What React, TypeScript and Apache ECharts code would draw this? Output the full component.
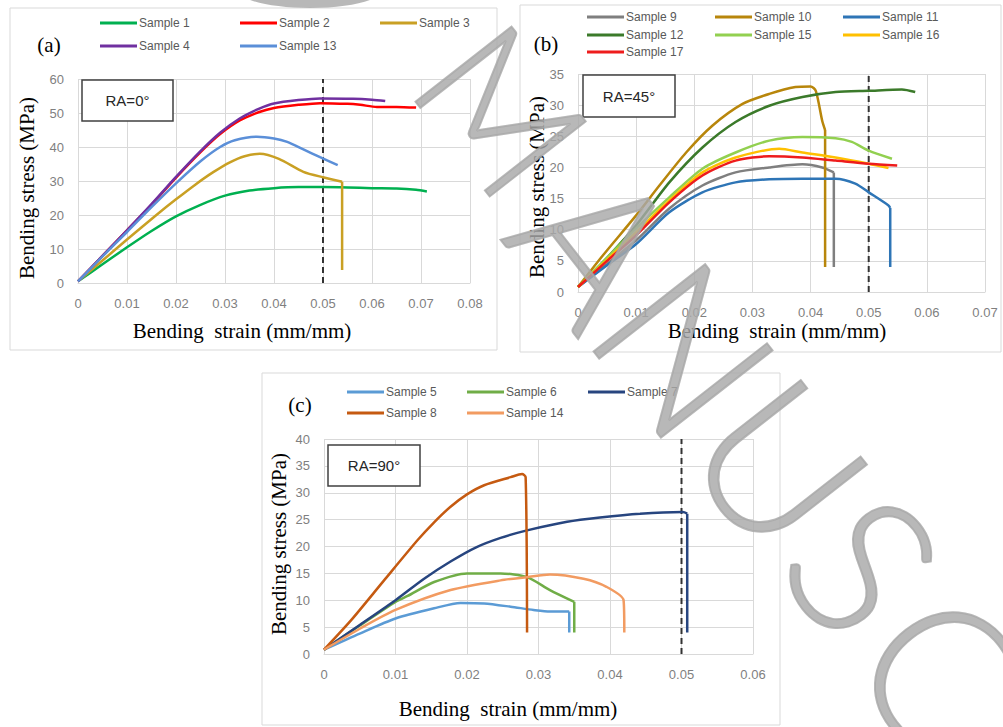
import React, { useEffect, useRef } from "react";
import * as echarts from "echarts";

// ---------- Panel (a) RA=0° ----------
const sample1 = [[0,0.5],[0.005,5.5],[0.01,10.5],[0.015,15.3],[0.02,19.6],[0.025,23],[0.03,25.7],[0.035,27.2],[0.04,27.9],[0.045,28.2],[0.05,28.2],[0.055,28.1],[0.06,27.9],[0.065,27.8],[0.069,27.4],[0.0712,26.9]];
const sample2 = [[0,0.5],[0.005,8],[0.01,15.5],[0.015,23],[0.02,31],[0.025,38.5],[0.029,43.8],[0.033,47.8],[0.037,50.3],[0.04,51.5],[0.045,52.4],[0.0494,52.9],[0.055,52.7],[0.0576,52.4],[0.061,51.8],[0.065,51.8],[0.069,51.6]];
const sample3 = [[0,0.5],[0.005,6.6],[0.01,12.8],[0.016,20],[0.02,24.6],[0.024,29],[0.0276,32.6],[0.031,35.5],[0.034,37.3],[0.0371,38],[0.041,36.5],[0.046,32.7],[0.05,31.1],[0.0539,29.8],[0.0539,3.8]];
const sample4 = [[0,0.5],[0.005,8],[0.01,15.5],[0.015,23.2],[0.02,31.2],[0.025,38.8],[0.029,44.2],[0.033,48.4],[0.037,51.3],[0.04,52.8],[0.045,53.8],[0.0494,54.3],[0.0561,54.2],[0.06,53.9],[0.0627,53.5]];
const sample13 = [[0,0.5],[0.005,7.8],[0.01,15],[0.015,22.3],[0.02,29.3],[0.025,35.8],[0.029,40],[0.032,42],[0.0365,43],[0.04,42.5],[0.0427,41.5],[0.046,39.3],[0.0494,37],[0.053,34.7]];

// ---------- Panel (b) RA=45° ----------
const sample9 = [[0,0.8],[0.005,4.5],[0.01,8.3],[0.0157,13.4],[0.0214,17.1],[0.0271,19.2],[0.0329,20],[0.0386,20.5],[0.042,20],[0.044,19.2],[0.044,4]];
const sample10 = [[0,0.8],[0.0043,5.9],[0.01,12.3],[0.014,17.1],[0.0186,22.4],[0.0231,26.7],[0.0283,30.2],[0.0329,31.8],[0.0374,32.9],[0.04,33],[0.0409,32.3],[0.042,27.5],[0.0425,26],[0.0425,4]];
const sample11 = [[0,0.8],[0.005,4.3],[0.01,7.7],[0.0157,12.8],[0.0214,16],[0.0271,17.6],[0.0329,18.1],[0.0386,18.2],[0.0443,18.2],[0.0477,17.4],[0.05,16],[0.0534,13.9],[0.0537,13.5],[0.0537,4]];
const sample12 = [[0,0.8],[0.0043,4.8],[0.01,10.7],[0.0157,17.6],[0.0214,23.2],[0.0271,27.3],[0.0329,29.9],[0.0386,31.3],[0.0443,32.1],[0.05,32.3],[0.0557,32.5],[0.058,32.1]];
const sample15 = [[0,0.8],[0.005,5.5],[0.01,10.2],[0.0157,15.2],[0.0214,19.8],[0.0271,22.4],[0.0329,24.3],[0.0386,24.9],[0.0443,24.7],[0.0471,24.1],[0.05,22.7],[0.054,21.4]];
const sample16 = [[0,0.8],[0.005,5.2],[0.01,9.6],[0.0157,14.7],[0.0214,19.2],[0.0271,21.6],[0.0346,23],[0.0386,22.4],[0.0443,21.6],[0.05,20.6],[0.0534,19.9]];
const sample17 = [[0,0.8],[0.005,5],[0.01,9.1],[0.0157,14.4],[0.0214,18.7],[0.0271,21.1],[0.0329,21.8],[0.0386,21.6],[0.0443,21.1],[0.05,20.6],[0.0549,20.3]];

// ---------- Panel (c) RA=90° ----------
const sample5 = [[0,0.8],[0.005,3.8],[0.01,6.6],[0.0154,8.5],[0.0191,9.5],[0.0224,9.4],[0.0261,8.8],[0.0293,8.2],[0.0316,7.9],[0.0343,7.9],[0.0343,4]];
const sample6 = [[0,0.8],[0.005,5.3],[0.01,9.7],[0.0117,10.8],[0.0154,13.4],[0.02,15],[0.0247,15],[0.0284,14.3],[0.0316,11.9],[0.035,9.7],[0.035,4]];
const sample7 = [[0,0.8],[0.005,5.4],[0.01,10],[0.014,14],[0.0177,17.2],[0.0212,19.8],[0.0247,21.6],[0.0284,23],[0.034,24.6],[0.0386,25.4],[0.0442,26.1],[0.0502,26.4],[0.0508,26.1],[0.0508,4]];
const sample8 = [[0,0.8],[0.0038,6.3],[0.0084,13.7],[0.0131,21.2],[0.0154,24.5],[0.0177,27.4],[0.02,29.7],[0.0224,31.4],[0.0261,32.9],[0.0277,33.5],[0.0282,32.9],[0.0284,4]];
const sample14 = [[0,0.8],[0.005,4.7],[0.01,8.2],[0.0177,11.9],[0.0247,13.7],[0.0284,14.3],[0.0316,14.8],[0.0363,14],[0.0395,12.5],[0.0419,10],[0.042,4]];

// axis ranges / reference lines
const limitStrain = 0.05;
const axesA = { xMax: 0.08, yMax: 60, yStep: 10 };
const axesB = { xMax: 0.07, yMax: 35, yStep: 5 };
const axesC = { xMax: 0.06, yMax: 40, yStep: 5 };
const panelLabels = ["(a)", "(b)", "(c)"];
const raLabels = ["RA=0°", "RA=45°", "RA=90°"];
const xTitle = "Bending  strain (mm/mm)";
const yTitle = "Bending stress (MPa)";
const watermark = ["M", "A", "N", "U", "S", "C"];

const panelA = [
  { name: "Sample 1", data: sample1 },
  { name: "Sample 2", data: sample2 },
  { name: "Sample 3", data: sample3 },
  { name: "Sample 4", data: sample4 },
  { name: "Sample 13", data: sample13 },
];
const panelB = [
  { name: "Sample 9", data: sample9 },
  { name: "Sample 10", data: sample10 },
  { name: "Sample 11", data: sample11 },
  { name: "Sample 12", data: sample12 },
  { name: "Sample 15", data: sample15 },
  { name: "Sample 16", data: sample16 },
  { name: "Sample 17", data: sample17 },
];
const panelC = [
  { name: "Sample 5", data: sample5 },
  { name: "Sample 6", data: sample6 },
  { name: "Sample 7", data: sample7 },
  { name: "Sample 8", data: sample8 },
  { name: "Sample 14", data: sample14 },
];

const colorsA = ["#00b050", "#ff0000", "#c9a024", "#7030a0", "#5b8fd8"];
const colorsB = ["#7f7f7f", "#b8860b", "#2e75b6", "#3b7a2a", "#92d050", "#ffc000", "#ee1c1c"];
const colorsC = ["#5b9bd5", "#70ad47", "#27457f", "#c55a11", "#f29b61"];

// legend item positions [left, centerY]
const legPosA = [[100, 24], [240, 24], [380, 24], [100, 47], [240, 47]];
const legPosB = [[587, 18], [715, 18], [843, 18], [587, 36], [715, 36], [843, 36], [587, 53]];
const legPosC = [[347, 393], [467, 393], [588, 393], [347, 414], [467, 414]];

const wmPos = [[505, 108], [600, 242], [688, 347], [783, 462], [866, 563], [945, 670]];
const wmSize = [172, 200, 200, 200, 200, 200];

const fmt = (v: number) => (v === 0 ? "0" : v.toFixed(2));

export default function App() {
  const ref = useRef<HTMLDivElement>(null);
  useEffect(() => {
    if (!ref.current) return;
    const chart = echarts.init(ref.current, undefined, { renderer: "svg" });

    const labelStyle = { color: "#7f7f7f", fontSize: 13, fontFamily: "Liberation Sans", margin: 14 };
    const split = { show: true, lineStyle: { color: "#d9d9d9", width: 1 } };

    const mkX = (gi: number, max: number) => ({
      type: "value", gridIndex: gi, min: 0, max, interval: 0.01,
      axisLine: { show: true, lineStyle: { color: "#d9d9d9" } }, axisTick: { show: false },
      axisLabel: { ...labelStyle, formatter: fmt }, splitLine: split,
    });
    const mkY = (gi: number, max: number, step: number) => ({
      type: "value", gridIndex: gi, min: 0, max, interval: step,
      axisLine: { show: false }, axisTick: { show: false },
      axisLabel: labelStyle, splitLine: split,
    });

    const series: any[] = [];
    const legends: any[] = [];
    const addPanel = (list: any[], colors: string[], pos: number[][], gi: number) => {
      list.forEach((s, i) => {
        const d = s.data;
        const n = d.length;
        const hasDrop = n > 2 && d[n - 1][0] === d[n - 2][0];
        const main = hasDrop ? d.slice(0, n - 1) : d;
        const base = {
          type: "line", name: s.name, xAxisIndex: gi, yAxisIndex: gi,
          showSymbol: false, symbol: "none", color: colors[i],
          lineStyle: { width: 2.5, color: colors[i] }, z: 3,
        };
        series.push({ ...base, data: main, smooth: 0.25 });
        if (hasDrop) series.push({ ...base, data: d.slice(n - 2) });
        legends.push({
          data: [s.name], left: pos[i][0], top: pos[i][1] - 7, padding: 0,
          icon: "rect", itemWidth: 37, itemHeight: 3, selectedMode: false,
          textStyle: { color: "#595959", fontSize: 12, fontFamily: "Liberation Sans", padding: [0, 0, 0, -3] },
        });
      });
    };
    addPanel(panelA, colorsA, legPosA, 0);
    addPanel(panelB, colorsB, legPosB, 1);
    addPanel(panelC, colorsC, legPosC, 2);

    [axesA.yMax, axesB.yMax, axesC.yMax].forEach((ym, gi) => {
      series.push({
        type: "line", name: "limit" + gi, data: [[limitStrain, 0], [limitStrain, ym]],
        xAxisIndex: gi, yAxisIndex: gi, showSymbol: false, symbol: "none", silent: true,
        lineStyle: { width: 2, color: "#333", type: [6, 4] }, z: 2,
      });
    });

    const border = (x: number, y: number, w: number, h: number) => ({
      type: "rect", shape: { x, y, width: w, height: h }, z: -10,
      style: { fill: "none", stroke: "#d9d9d9", lineWidth: 1 },
    });
    const raBox = (x: number, y: number, w: number, h: number, t: string) => ([
      { type: "rect", shape: { x, y, width: w, height: h }, z: 10,
        style: { fill: "#fff", stroke: "#404040", lineWidth: 1.5 } },
      { type: "text", x: x + w / 2, y: y + h / 2, z: 11,
        style: { text: t, align: "center", verticalAlign: "middle", fontSize: 15, fontFamily: "Liberation Sans", fill: "#262626" } },
    ]);
    const serifText = (x: number, y: number, t: string, rot = 0) => ({
      type: "text", x, y, z: 11, rotation: rot,
      style: { text: t, align: "center", verticalAlign: "middle", fontSize: 21, fontFamily: "Liberation Serif", fill: "#000" },
    });
    const wm = watermark.map((ch, i) => ({
      type: "text", x: wmPos[i][0], y: wmPos[i][1], rotation: (-52 * Math.PI) / 180, z: 100,
      style: {
        text: ch, align: "center", verticalAlign: "middle", fontSize: wmSize[i], fontFamily: "Lato", fontWeight: 300,
        fill: "#a8a8a8", stroke: "#a8a8a8", lineWidth: 2, opacity: 0.82,
      },
    }));

    chart.setOption({
      animation: false,
      backgroundColor: "#fff",
      grid: [
        { left: 78, top: 79, width: 392, height: 204 },
        { left: 578, top: 74, width: 407, height: 218 },
        { left: 324, top: 439, width: 429, height: 215 },
      ],
      xAxis: [mkX(0, axesA.xMax), mkX(1, axesB.xMax), mkX(2, axesC.xMax)],
      yAxis: [mkY(0, axesA.yMax, axesA.yStep), mkY(1, axesB.yMax, axesB.yStep), mkY(2, axesC.yMax, axesC.yStep)],
      legend: legends,
      series,
      graphic: [
        border(10, 8, 487, 342),
        border(520, 5, 481, 347),
        border(262, 373, 518, 352),
        serifText(49, 45, panelLabels[0]),
        serifText(546, 44, panelLabels[1]),
        serifText(300, 405, panelLabels[2]),
        serifText(242, 331, xTitle),
        serifText(777, 331, xTitle),
        serifText(508, 709, xTitle),
        serifText(27, 188, yTitle, Math.PI / 2),
        serifText(537, 187, yTitle, Math.PI / 2),
        serifText(279, 544, yTitle, Math.PI / 2),
        ...raBox(82, 80, 91, 41, raLabels[0]),
        ...raBox(583, 75, 92, 42, raLabels[1]),
        ...raBox(328, 445, 92, 41, raLabels[2]),
        { type: "ellipse", shape: { cx: 310, cy: -10, rx: 72, ry: 18 }, z: 100, style: { fill: "#a8a8a8", opacity: 0.82 } },
        ...wm,
      ],
    });
    return () => chart.dispose();
  }, []);
  return <div ref={ref} style={{ position: "fixed", left: 0, top: 0, width: 1003, height: 727, background: "#fff" }} />;
}
